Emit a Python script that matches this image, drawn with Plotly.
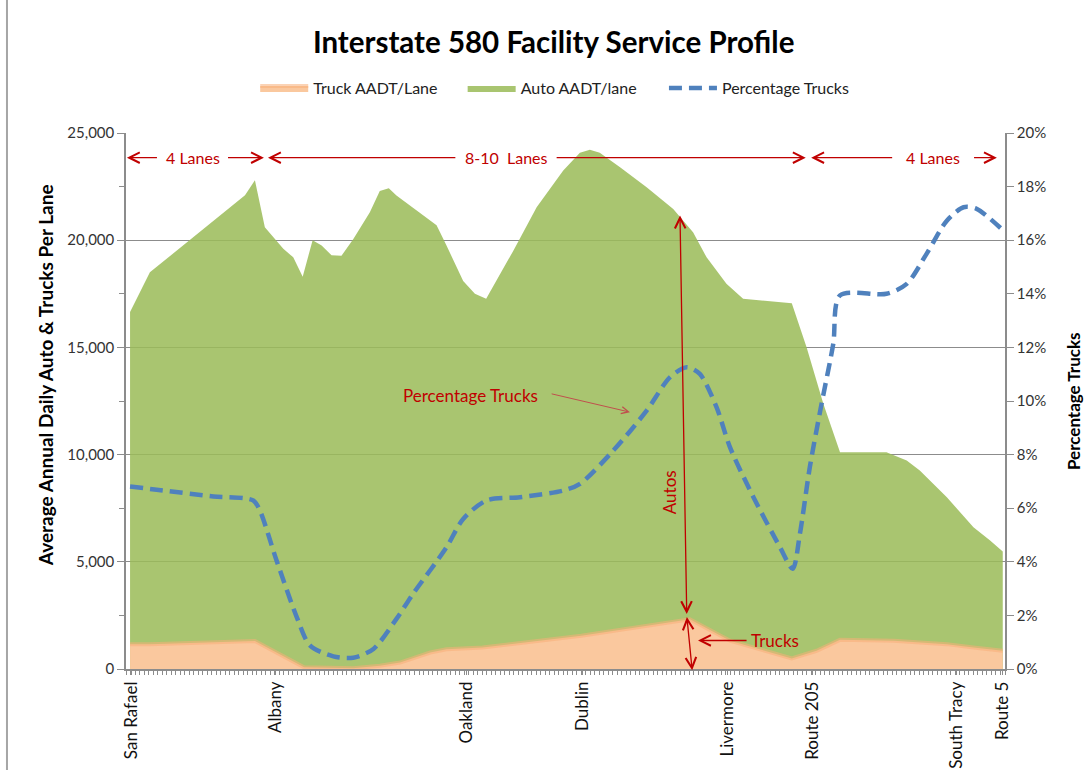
import plotly.graph_objects as go

# segment index along the corridor (0..195)
auto_x = [0.9, 5.3, 26.4, 28.6, 30.8, 34.9, 37.1, 39.2, 41.4, 43.4, 45.6, 47.8, 50.4, 54.1,
          56.3, 58.3, 60.0, 68.9, 71.1, 74.8, 77.4, 79.9, 85.9, 91.1, 97.0, 100.7, 102.9,
          105.1, 109.6, 115.5, 121.4, 125.8, 128.8, 133.2, 136.9, 145.1, 147.7, 151.0,
          154.7, 158.4, 168.7, 173.2, 176.1, 182.1, 188.0, 191.7, 194.5]
auto_aadt = [16650, 18500, 22100, 22800, 20600, 19600, 19200, 18300, 20000, 19750, 19300,
             19280, 20050, 21300, 22300, 22420, 22080, 20700, 19750, 18100, 17500, 17270,
             19500, 21540, 23250, 24080, 24220, 24080, 23400, 22470, 21460, 20370, 19200,
             17970, 17270, 17110, 17060, 15000, 12370, 10110, 10110, 9720, 9260, 8010,
             6610, 5990, 5480]

truck_x = [0.9, 5.3, 28.6, 39.5, 50.4, 56.3, 60.8, 67.5, 71.1, 79.1, 101.0, 122.9, 125.1,
           134.0, 145.1, 147.7, 153.2, 158.4, 170.3, 182.1, 188.0, 194.5]
truck_aadt = [1150, 1160, 1310, 80, 40, 150, 300, 770, 920, 1000, 1550, 2250, 2320,
              1320, 620, 490, 850, 1360, 1320, 1160, 1000, 850]

pct_x = [0.9, 6.8, 19.4, 28.2, 29.7, 33.4, 37.9, 40.8, 46.0, 50.4, 54.9, 60.0, 63.7, 71.1,
         74.8, 80.0, 87.4, 97.0, 100.7, 108.1, 115.5, 120.7, 124.4, 127.3, 131.0, 134.0,
         139.2, 145.1, 147.9, 149.5, 151.7, 154.3, 156.9, 158.4, 168.7, 173.2, 177.6,
         182.1, 185.8, 188.7, 195.0]
pct_trucks = [6.81, 6.69, 6.44, 6.29, 5.91, 4.05, 1.93, 0.88, 0.47, 0.42, 0.75, 1.87, 2.81,
              4.54, 5.60, 6.29, 6.41, 6.66, 6.91, 8.15, 9.64, 10.89, 11.26, 11.01, 9.77,
              8.27, 6.41, 4.54, 3.74, 5.04, 7.53, 9.89, 12.13, 13.94, 14.0, 14.37, 15.49,
              16.73, 17.23, 17.17, 16.30]

places = ["San Rafael", "Albany", "Oakland", "Dublin", "Livermore", "Route 205",
          "South Tracy", "Route 5"]
place_x = [1.3, 33.1, 75.6, 101.2, 133.4, 152.2, 184.3, 194.5]

FONT = "Lato"
RED = "#C00000"
GRID = "#8C8C8C"

fig = go.Figure()

fig.add_trace(go.Scatter(x=auto_x, y=auto_aadt, name="Auto AADT/lane",
                         mode="lines", fill="tozeroy", line=dict(width=0, color="#A9C574"),
                         fillcolor="rgba(155,187,89,0.86)", legend="legend2",
                         showlegend=True))
fig.add_trace(go.Scatter(x=truck_x, y=truck_aadt, name="Truck AADT/Lane",
                         mode="lines", fill="tozeroy",
                         line=dict(width=4, color="rgba(247,175,120,0.55)"),
                         fillcolor="#FAC89E", legend="legend", showlegend=True))
fig.add_trace(go.Scatter(x=pct_x, y=[p / 100 for p in pct_trucks], name="Percentage Trucks",
                         mode="lines", yaxis="y2",
                         line=dict(color="#4F81BD", width=4.5, dash="13px,7px",
                                   shape="spline", smoothing=0.8),
                         legend="legend3", showlegend=True))

# lane spans: (start, text-left gap, text centre, text-right gap, end, label)
lanes = [(0.2, 7.2, 14.9, 22.3, 30.6, "4 Lanes"),
         (31.5, 73.4, 84.3, 95.2, 150.8, "8-10  Lanes"),
         (152.0, 170.3, 179.0, 187.8, 193.2, "4 Lanes")]
lane_y = 23850
for s, l, c, r, e, lab in lanes:
    for tail, head in [(l, s), (r, e)]:
        fig.add_annotation(x=head, y=lane_y, ax=tail, ay=lane_y, xref="x", yref="y",
                           axref="x", ayref="y", text="", showarrow=True,
                           arrowhead=5, arrowsize=1.6, arrowwidth=1.3, arrowcolor=RED)
    fig.add_annotation(x=c, y=lane_y, text=lab, showarrow=False,
                       font=dict(family=FONT, size=16, color=RED))

# Autos / Trucks arrows
fig.add_annotation(x=122.9, y=21150, ax=124.4, ay=2495, xref="x", yref="y", axref="x",
                   ayref="y", text="", showarrow=True, arrowhead=5, startarrowhead=5,
                   arrowside="end+start", arrowsize=1.6, arrowwidth=1.3, arrowcolor=RED)
fig.add_annotation(x=125.6, y=-60, ax=124.4, ay=2495, xref="x", yref="y", axref="x",
                   ayref="y", text="", showarrow=True, arrowhead=5, startarrowhead=5,
                   arrowside="end+start", arrowsize=1.6, arrowwidth=1.3, arrowcolor=RED)
fig.add_annotation(x=120.6, y=8230, text="Autos", textangle=-90, showarrow=False,
                   font=dict(family=FONT, size=17, color=RED))
fig.add_annotation(x=126.9, y=1330, ax=138.0, ay=1330, xref="x", yref="y", axref="x",
                   ayref="y", text="", showarrow=True, arrowhead=5, arrowsize=1.6,
                   arrowwidth=1.3, arrowcolor=RED)
fig.add_annotation(x=138.3, y=1330, text="Trucks", xanchor="left", showarrow=False,
                   font=dict(family=FONT, size=17, color=RED))
fig.add_annotation(x=76.5, y=12760, text="Percentage Trucks", showarrow=False,
                   font=dict(family=FONT, size=17, color=RED))
fig.add_annotation(x=111.8, y=11980, ax=94.1, ay=12850, xref="x", yref="y", axref="x",
                   ayref="y", text="", showarrow=True, arrowhead=5, arrowsize=1.4,
                   arrowwidth=1, arrowcolor="#C0504D")

# axis titles
fig.add_annotation(x=-0.0922, y=0.548, xref="paper", yref="paper", showarrow=False,
                   xanchor="center", yanchor="middle",
                   text="<b>Average Annual Daily Auto & Trucks Per Lane</b>", textangle=-90,
                   font=dict(family=FONT, size=19, color="#000"))
fig.add_annotation(x=1.0774, y=0.5, xref="paper", yref="paper", showarrow=False,
                   xanchor="center", yanchor="middle",
                   text="<b>Percentage Trucks</b>", textangle=-90,
                   font=dict(family=FONT, size=17, color="#000"))

fig.add_shape(type="line", xref="paper", yref="paper", x0=-0.1354, x1=-0.1354, y0=-0.2,
              y1=1.3, line=dict(color="#A6A6A6", width=2))

leg = dict(orientation="h", xanchor="left", y=1.084, yanchor="middle", itemwidth=48,
           font=dict(family=FONT, size=16, color="#222"), bgcolor="rgba(0,0,0,0)")

fig.update_layout(
    width=1092, height=770,
    margin=dict(l=126, r=87, t=133, b=101),
    paper_bgcolor="white", plot_bgcolor="white",
    showlegend=True,
    font=dict(family=FONT, size=15, color="#333"),
    title=dict(text="<b>Interstate 580 Facility Service Profile</b>", x=0.507, y=0.945,
               xanchor="center", yanchor="middle",
               font=dict(family=FONT, size=29.5, color="#000")),
    legend=dict(leg, x=0.147),
    legend2=dict(leg, x=0.383),
    legend3=dict(leg, x=0.612),
    xaxis=dict(range=[0, 195], tickmode="array", tickvals=place_x, ticktext=places,
               tickangle=-90, ticks="outside", ticklen=4, tickcolor=GRID,
               showline=True, linecolor=GRID, linewidth=1.5, showgrid=False,
               zeroline=False, tickfont=dict(family=FONT, size=17, color="#111"),
               automargin=False,
               minor=dict(tickmode="linear", tick0=0, dtick=1, ticks="outside",
                          ticklen=4, tickcolor=GRID, showgrid=False)),
    yaxis=dict(range=[0, 25000], dtick=5000, tickformat=",", showgrid=True,
               gridcolor=GRID, gridwidth=1, showline=True, linecolor=GRID, linewidth=1.5,
               ticks="outside", ticklen=7, tickcolor=GRID, zeroline=False,
               automargin=False, tickfont=dict(family=FONT, size=15, color="#333"),
               minor=dict(dtick=2500, ticks="outside", ticklen=5, tickcolor=GRID,
                          showgrid=False)),
    yaxis2=dict(range=[0, 0.2], dtick=0.02, tickformat=".0%", overlaying="y",
                side="right", showgrid=False, showline=True, linecolor=GRID,
                linewidth=1.5, ticks="outside", ticklen=7, tickcolor=GRID,
                zeroline=False, automargin=False,
                tickfont=dict(family=FONT, size=15, color="#333")),
)

fig.write_html("out.html", config={"displayModeBar": False},
               post_script="document.body.style.margin='0';")
